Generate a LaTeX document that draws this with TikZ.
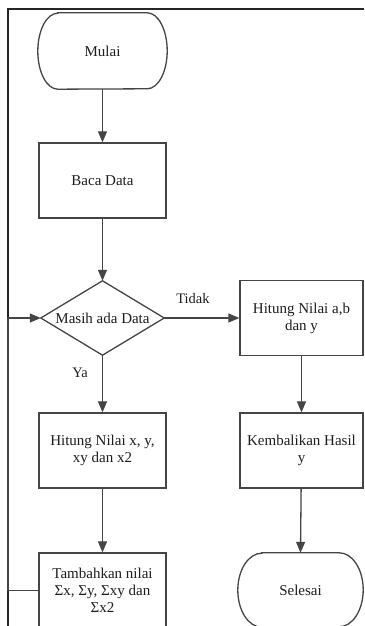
\documentclass[tikz,border=0pt]{standalone}
\usepackage{fontspec}
\setmainfont{Liberation Serif}
\newfontfamily\flowfont{Liberation Serif}
\usetikzlibrary{arrows.meta}
\definecolor{linegrey}{HTML}{454545}
\definecolor{textgrey}{HTML}{1E1E1E}
\begin{document}
\begin{tikzpicture}[x=1pt,y=1pt,
  line/.style={draw=linegrey,line width=1.3pt},
  flow/.style={line,-{Triangle[length=11pt,width=9pt]}},
  frameline/.style={draw=black!85,line width=1.8pt},
  txt/.style={font=\flowfont\fontsize{15}{17}\selectfont,text=textgrey,align=center,inner sep=0pt},
  proc/.style={txt,line,minimum width=127pt,minimum height=75pt},
  procr/.style={proc,minimum width=123pt},
  shapebox/.style={txt,minimum width=#1,minimum height=75pt},
  lbl/.style={font=\flowfont\fontsize{14.5}{16}\selectfont,text=textgrey,inner sep=0pt}
]
\useasboundingbox (0,0) rectangle (364,626);
\fill[white] (0,0) rectangle (364,626);

% outer frame
\draw[frameline] (7,617) -- (364,617);
\draw[frameline] (8,617) -- (8,0);

% left column
\node[shapebox=129pt,minimum height=76pt] (start) at (102.5,575) {Mulai};
\draw[line] ([xshift=20pt]start.north west) -- ([xshift=-20pt]start.north east)
  arc[start angle=90,end angle=-90,x radius=20pt,y radius=38pt]
  -- ([xshift=20pt]start.south west)
  arc[start angle=270,end angle=90,x radius=20pt,y radius=38pt] -- cycle;

\node[proc] (read) at (102.5,445.5) {Baca Data};

\node[shapebox=123pt,minimum height=74pt] (dec) at (102.5,308) {Masih ada Data};
\draw[line] (dec.north) -- (dec.east) -- (dec.south) -- (dec.west) -- cycle;

\node[proc] (hit) at (102.5,175.5) {Hitung Nilai x, y,\\xy dan x2};
\node[proc] (add) at (102.5,35.5) {Tambahkan nilai\\Σx, Σy, Σxy dan\\Σx2};

% right column
\node[procr] (calc) at (301.5,308) {Hitung Nilai a,b\\dan y};
\node[procr] (ret) at (301.5,175.5) {Kembalikan Hasil\\y};
\node[shapebox=125pt,minimum height=74pt] (stop) at (300.5,36) {Selesai};
\draw[line] ([xshift=24pt]stop.north west) -- ([xshift=-24pt]stop.north east)
  arc[start angle=90,end angle=-90,x radius=24pt,y radius=37pt]
  -- ([xshift=24pt]stop.south west)
  arc[start angle=270,end angle=90,x radius=24pt,y radius=37pt] -- cycle;

% connectors
\draw[flow] (start) -- (read);
\draw[flow] (read) -- (dec.north);
\draw[flow] (dec.south) -- (hit);
\draw[flow] (hit) -- (add);
\draw[flow] (dec.east) -- (calc.west);
\draw[flow] (calc) -- (ret);
\draw[flow] (ret) -- (stop.north);
\coordinate (loopx) at (8,0);
\draw[flow] (add.west) -- (add.west -| loopx) |- (dec.west);

% branch labels
\node[lbl] (tidak) at (193,327) {Tidak};
\node[lbl] (ya) at (80,253) {Ya};
\end{tikzpicture}
\end{document}
